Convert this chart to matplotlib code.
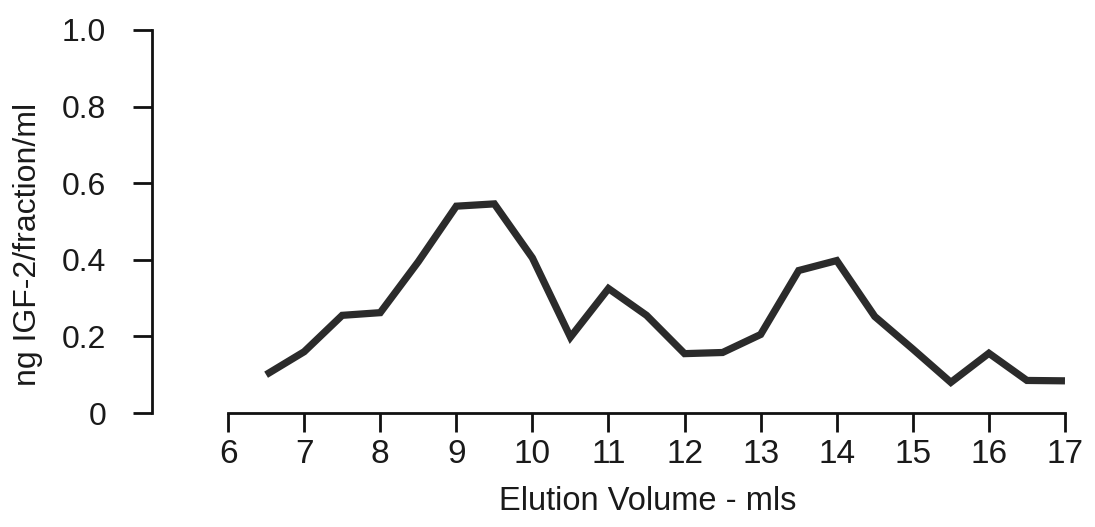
import matplotlib
matplotlib.use("Agg")
import matplotlib.pyplot as plt

# elution profile of IGF-2 across the column fractions
elution_ml = [6.5, 7.0, 7.5, 8.0, 8.5, 9.0, 9.5, 10.0, 10.5, 11.0, 11.5, 12.0,
              12.5, 13.0, 13.5, 14.0, 14.5, 15.0, 15.5, 16.0, 16.5, 17.0]
igf2_ng = [0.10, 0.16, 0.255, 0.262, 0.395, 0.54, 0.546, 0.405, 0.198, 0.325, 0.255, 0.155,
           0.158, 0.205, 0.372, 0.398, 0.252, 0.167, 0.08, 0.156, 0.085, 0.084]

x_ticks = list(range(6, 18))
y_ticks = [0, 0.2, 0.4, 0.6, 0.8, 1.0]
y_tick_labels = ["0", "0.2", "0.4", "0.6", "0.8", "1.0"]

plt.rcParams['font.family'] = ['Liberation Sans', 'DejaVu Sans']

fig = plt.figure(figsize=(10.95, 5.27), dpi=100)
ax = fig.add_axes([0.1388, 0.2163, 0.8442, 0.7268])

ax.plot(elution_ml, igf2_ng, color='#2b2b2b', linewidth=5.2, solid_joinstyle='miter',
        solid_capstyle='butt', clip_on=False)

ax.set_xlim(5, 17.15)
ax.set_ylim(0, 1.0)

ax.spines['top'].set_visible(False)
ax.spines['right'].set_visible(False)
ax.spines['left'].set_bounds(0, 1.0)
ax.spines['bottom'].set_bounds(6, 17)
for s in ('left', 'bottom'):
    ax.spines[s].set_linewidth(2.0)
    ax.spines[s].set_color('#111111')

ax.set_xticks(x_ticks)
ax.set_xticklabels([str(v) for v in x_ticks])
ax.set_yticks(y_ticks)
ax.set_yticklabels(y_tick_labels)

ax.tick_params(axis='x', length=14, width=2.0, color='#111111', pad=5, labelsize=24,
               labelcolor='#1a1a1a')
ax.tick_params(axis='y', length=14, width=2.0, color='#111111', pad=19, labelsize=23,
               labelcolor='#1a1a1a')

ax.set_xlabel("Elution Volume - mls", fontsize=23.5, color='#1a1a1a')
ax.xaxis.set_label_coords(0.5366, -0.19)
ax.set_ylabel("ng IGF-2/fraction/ml", fontsize=23, color='#1a1a1a')
ax.yaxis.set_label_coords(-0.118, 0.44)

fig.savefig("out.png", dpi=100, facecolor='white')
